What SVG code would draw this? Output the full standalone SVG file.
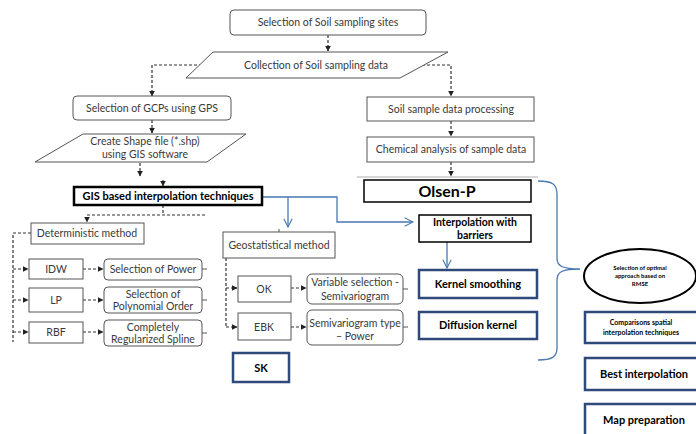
<svg xmlns="http://www.w3.org/2000/svg" width="696" height="434" viewBox="0 0 696 434">
<style>
.t{font-family:Lato,"Open Sans","Liberation Sans",sans-serif;fill:#3a3a3a;text-anchor:middle}
.n{font-size:10.5px}
.b{font-weight:bold;fill:#000}
.box{fill:#fff;stroke:#555;stroke-width:1}
.blk{fill:#fff;stroke:#000;stroke-width:1.5}
.dk{fill:#fff;stroke:#2f4a78;stroke-width:2.5}
.d{fill:none;stroke:#333;stroke-width:1.2;stroke-dasharray:3 2}
.bl{fill:none;stroke:#4a78b0;stroke-width:1.3}
.tk{fill:none;stroke:#555;stroke-width:1}
</style>
<defs>
<marker id="ah" viewBox="0 0 10 10" refX="9" refY="5" markerWidth="5" markerHeight="5" orient="auto"><path d="M0,0L10,5L0,10z" fill="#222"/></marker>
<marker id="ob" viewBox="0 0 12 12" refX="11" refY="6" markerWidth="10" markerHeight="10" markerUnits="userSpaceOnUse" orient="auto"><path d="M1,1L11,6L1,11" fill="none" stroke="#4a78b0" stroke-width="1.3"/></marker>
</defs>
<rect width="696" height="434" fill="#fff"/>

<g id="connectors">
<path class="d" d="M328,35V51" marker-end="url(#ah)"/>
<path class="d" d="M212,65H152V96" marker-end="url(#ah)"/>
<path class="d" d="M422,65H451V96" marker-end="url(#ah)"/>
<path class="d" d="M152,120V133" marker-end="url(#ah)"/>
<path class="d" d="M140,163V176" marker-end="url(#ah)"/>
<path class="d" d="M163,180V186" marker-end="url(#ah)"/>
<path class="d" d="M451,121V136" marker-end="url(#ah)"/>
<path class="d" d="M451,162V176" marker-end="url(#ah)"/>
<path d="M357,177H538" stroke="#999" stroke-width="0.8"/>
<path class="d" d="M163,205V215M205,215H87V222" marker-end="url(#ah)"/>
<path class="d" d="M31,233H13V342"/>
<path class="d" d="M13,269H28" marker-end="url(#ah)"/>
<path class="d" d="M13,300H28" marker-end="url(#ah)"/>
<path class="d" d="M13,332H28" marker-end="url(#ah)"/>
<path class="d" d="M83,269H103" marker-end="url(#ah)"/>
<path class="d" d="M83,300H103" marker-end="url(#ah)"/>
<path class="d" d="M83,332H103" marker-end="url(#ah)"/>
<path class="tk" d="M202,269H207M202,300H207M202,333H207"/>
<path class="tk" d="M279,229V232"/>
<path class="d" d="M226,258V327"/>
<path class="d" d="M226,288H237" marker-end="url(#ah)"/>
<path class="d" d="M226,327H237" marker-end="url(#ah)"/>
<path class="d" d="M291,288H306" marker-end="url(#ah)"/>
<path class="d" d="M291,327H306" marker-end="url(#ah)"/>
<path class="tk" d="M403,289H408M403,327H408"/>
<path class="bl" d="M262,197H337V222H413" marker-end="url(#ob)"/>
<path class="bl" d="M288,197V227" marker-end="url(#ob)"/>
<path class="bl" d="M447,242V268" marker-end="url(#ob)"/>
<path class="bl" d="M538,181C552,181 557,184 557,194V258C557,266 562,269 580,269C562,269 557,272 557,280V348C557,357 552,360 538,360"/>
</g>

<g id="n1"><rect class="box" x="230" y="10" width="196" height="25" rx="4"/><text class="t n" x="328" y="26">Selection of Soil sampling sites</text></g>
<g id="n2"><path class="box" d="M213,52H448L400,78H186Z"/><text class="t n" x="316" y="69">Collection of Soil sampling data</text></g>
<g id="n3"><rect class="box" x="73" y="96" width="158" height="24" rx="4"/><text class="t n" x="152" y="112">Selection of GCPs using GPS</text></g>
<g id="n4"><path class="box" d="M83,134H246L207,162H35Z"/><text class="t n" x="145" y="145">Create Shape file (*.shp)</text><text class="t n" x="145" y="158">using GIS software</text></g>
<g id="n5"><rect class="box" x="367" y="97" width="167" height="24"/><text class="t n" x="451" y="113">Soil sample data processing</text></g>
<g id="n6"><rect class="box" x="367" y="137" width="167" height="25"/><text class="t n" x="451" y="153">Chemical analysis of sample data</text></g>
<g id="n7"><rect x="74" y="187" width="188" height="18" fill="#fff" stroke="#000" stroke-width="2.5"/><text class="t b" font-size="11" x="168" y="200">GIS based interpolation techniques</text></g>
<g id="n8"><rect class="blk" x="364" y="180" width="167" height="22"/><text class="t b" font-size="16" x="447" y="197">Olsen-P</text></g>
<g id="n9"><rect class="box" x="31" y="223" width="113" height="21"/><text class="t n" x="87" y="237">Deterministic method</text></g>
<g id="n10"><rect class="box" x="29" y="259" width="54" height="20"/><text class="t n" x="56" y="273">IDW</text></g>
<g id="n11"><rect class="box" x="29" y="288" width="54" height="24"/><text class="t n" x="56" y="304">LP</text></g>
<g id="n12"><rect class="box" x="29" y="322" width="54" height="21"/><text class="t n" x="56" y="336">RBF</text></g>
<g id="n13"><rect class="box" x="104" y="259" width="98" height="21" rx="4"/><text class="t n" x="153" y="273">Selection of Power</text></g>
<g id="n14"><rect class="box" x="104" y="287" width="98" height="26" rx="4"/><text class="t n" x="153" y="298">Selection of</text><text class="t n" x="153" y="310">Polynomial Order</text></g>
<g id="n15"><rect class="box" x="104" y="320" width="98" height="26" rx="4"/><text class="t n" x="153" y="331">Completely</text><text class="t n" x="153" y="343">Regularized Spline</text></g>
<g id="n16"><rect class="box" x="223" y="232" width="112" height="26"/><text class="t n" x="279" y="249">Geostatistical method</text></g>
<g id="n17"><rect class="box" x="238" y="276" width="53" height="26"/><text class="t n" x="264" y="293">OK</text></g>
<g id="n18"><rect class="box" x="238" y="313" width="53" height="27"/><text class="t n" x="264" y="331">EBK</text></g>
<g id="n19"><rect class="box" x="307" y="274" width="96" height="30" rx="5"/><text class="t n" x="355" y="286">Variable selection -</text><text class="t n" x="355" y="300">Semivariogram</text></g>
<g id="n20"><rect class="box" x="307" y="310" width="96" height="35" rx="5"/><text class="t n" x="355" y="327">Semivariogram type</text><text class="t n" x="355" y="340">– Power</text></g>
<g id="n21"><rect class="dk" x="233" y="353" width="56" height="29"/><text class="t b" font-size="11" x="261" y="372">SK</text></g>
<g id="n22"><rect class="blk" x="419" y="215" width="112" height="27"/><text class="t b" font-size="10.5" x="475" y="226">Interpolation with</text><text class="t b" font-size="10.5" x="475" y="239">barriers</text></g>
<g id="n23"><rect class="dk" x="419" y="270" width="118" height="28"/><text class="t b" font-size="11" x="478" y="288">Kernel smoothing</text></g>
<g id="n24"><rect class="dk" x="419" y="312" width="118" height="27"/><text class="t b" font-size="11" x="478" y="329">Diffusion kernel</text></g>
<g id="n25"><ellipse cx="640" cy="276" rx="56" ry="27" fill="#fff" stroke="#000" stroke-width="2"/><text class="t b" font-size="6" x="640" y="270">Selection of optimal</text><text class="t b" font-size="6" x="640" y="278">approach based on</text><text class="t b" font-size="6" x="640" y="286">RMSE</text></g>
<g id="n26"><rect class="dk" x="585" y="312" width="115" height="31"/><text class="t b" font-size="7" x="641" y="325">Comparisons  spatial</text><text class="t b" font-size="7" x="641" y="335">interpolation techniques</text></g>
<g id="n27"><rect class="dk" x="585" y="358" width="115" height="32"/><text class="t b" font-size="11" x="644" y="378">Best interpolation</text></g>
<g id="n28"><rect class="dk" x="585" y="404" width="115" height="34"/><text class="t b" font-size="11" x="644" y="424">Map preparation</text></g>
</svg>
